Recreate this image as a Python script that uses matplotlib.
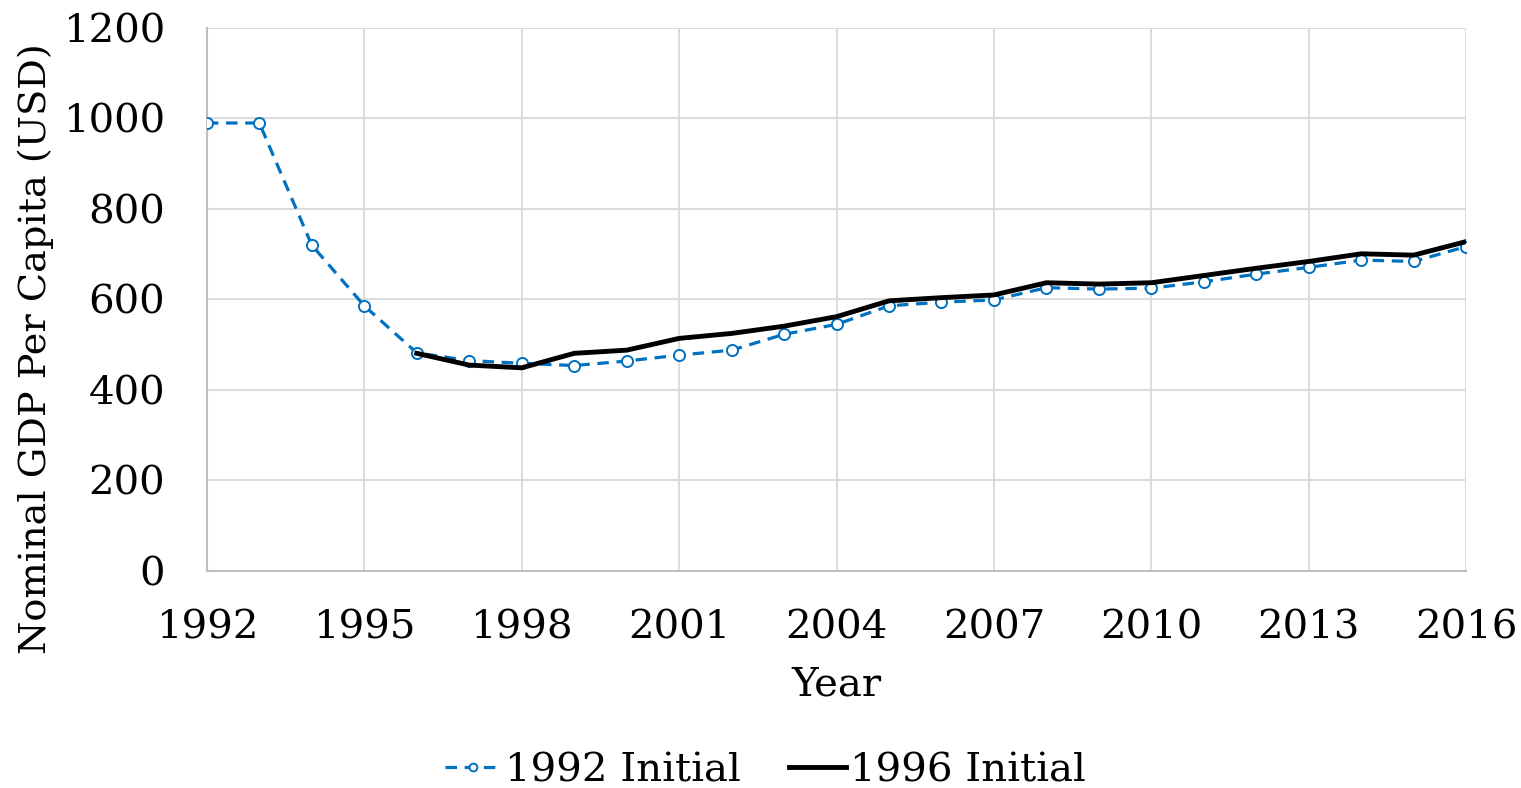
import matplotlib
matplotlib.use("Agg")
import matplotlib.pyplot as plt

years_1992 = list(range(1992, 2017))
gdp_1992 = [990, 990, 720, 586, 482, 465, 459, 454, 464, 477, 488, 523, 545,
            586, 594, 599, 626, 623, 625, 639, 656, 671, 687, 684, 717]

years_1996 = list(range(1996, 2017))
gdp_1996 = [481, 455, 449, 481, 488, 514, 525, 541, 562, 597, 604, 610, 637,
            634, 637, 653, 669, 684, 701, 698, 728]

xticks = list(range(1992, 2017, 3))
yticks = list(range(0, 1201, 200))

plt.rcParams['font.family'] = ['DejaVu Serif']

fig = plt.figure(figsize=(15.21, 7.88), dpi=100)
ax = fig.add_axes([0.136, 0.2754, 0.828, 0.6891])

ax.plot(years_1992, gdp_1992, color='#0070C0', linestyle=(0, (3.6, 2.4)), linewidth=2.3,
        marker='o', markersize=8, markerfacecolor='white', markeredgecolor='#0070C0',
        markeredgewidth=1.4, label='1992 Initial', zorder=3)
ax.plot(years_1996, gdp_1996, color='black', linewidth=3.5, label='1996 Initial', zorder=4)

ax.set_xlim(1992, 2016)
ax.set_ylim(0, 1200)
ax.set_xticks(xticks)
ax.set_yticks(yticks)
ax.grid(True, color='#d9d9d9', linewidth=1.3)
ax.set_axisbelow(True)
for s in ['top', 'right']:
    ax.spines[s].set_visible(False)
for s in ['left', 'bottom']:
    ax.spines[s].set_color('#bfbfbf')
    ax.spines[s].set_linewidth(1.5)
ax.tick_params(length=0, labelsize=29)
ax.tick_params(axis='x', pad=28)
ax.tick_params(axis='y', pad=30)

ax.set_xlabel('Year', fontsize=29, labelpad=14)
ax.set_ylabel('Nominal GDP Per Capita (USD)', fontsize=27.5)
ax.yaxis.set_label_coords(-0.121, 0.41)

fig.legend(loc='lower center', bbox_to_anchor=(0.503, -0.048), ncol=2, frameon=False,
           fontsize=29, handlelength=1.4, columnspacing=1.2, handletextpad=0.1,
           markerscale=0.7)

fig.savefig('out.png', dpi=100)
